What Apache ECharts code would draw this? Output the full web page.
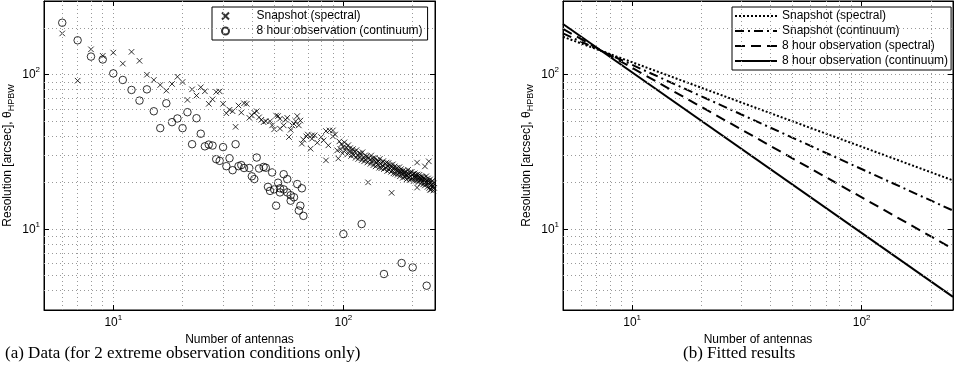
<!DOCTYPE html>
<html>
<head>
<meta charset="utf-8">
<script src="https://cdn.jsdelivr.net/npm/echarts@6/dist/echarts.min.js"></script>
<style>
html, body { margin: 0; padding: 0; background: #fff; }
#chart { width: 956px; height: 372px; }
</style>
</head>
<body>
<div id="chart"></div>
<script>
// [number of antennas, resolution in arcsec]
const snapshotSpectral = [
  [6, 185], [7, 91.5], [8, 146], [9, 132.5], [10, 139], [11, 118], [12, 140.6], [13, 123], [14, 100],
  [15, 92.5], [16, 85.8], [17, 78.9], [18, 87.1], [19, 97], [20, 89.7], [21, 68.7], [22, 80.4],
  [23, 73.3], [24, 82.9], [25, 78.1], [26, 64.8], [27, 69.3], [28, 77.4], [29, 78], [30, 64.8],
  [31, 56.3], [32, 59.3], [33, 58], [34, 46], [35, 63.2], [36, 56.9], [37, 65.3], [38, 64.8],
  [39, 52.6], [40, 54.5], [41, 56.7], [42, 58], [43, 53], [44, 51.1], [45, 49.3], [46, 50],
  [48, 50], [49, 47], [50, 44.3], [51, 54.4], [52, 54], [53, 51.9], [53, 44.8], [55, 47], [56, 51.1],
  [57, 52.6], [58, 39.5], [59, 44], [60, 47], [61, 48], [62, 50], [63, 54], [64, 47], [65, 50.5],
  [66, 35.8], [67, 38], [69, 39.9], [70, 41], [72, 33.2], [73, 38.5], [73, 40.5], [75, 40.5],
  [77, 36.3], [80, 39.5], [82, 37.6], [84, 27.9], [84, 43.2], [86, 34.9], [87, 43.6], [90, 39.9],
  [90, 43.6], [92, 41], [94, 32.4], [95, 28.7],
  [96, 37], [97, 33], [98, 35.5], [99, 31], [100, 34], [101, 36.5], [102, 32.5], [103, 33.8],
  [104, 30.5], [105, 35], [106, 32], [107, 33.5], [108, 29.8], [109, 31.5], [110, 33], [111, 30.2],
  [112, 31.8], [113, 29], [114, 32.5], [115, 30], [116, 28.5], [117, 31], [118, 29.5], [119, 30.8],
  [120, 28], [121, 31.5], [122, 29], [123, 27.5], [124, 30], [125, 28.3], [126, 29.6], [127, 27],
  [128, 20.1], [129, 29], [130, 28], [131, 26.5], [132, 30], [133, 27.5], [134, 28.8], [135, 26],
  [136, 27.8], [137, 29], [138, 25.5], [139, 27], [140, 28], [141, 26.2], [142, 27.4], [143, 25],
  [144, 28.5], [145, 26.5], [146, 24.8], [147, 27], [148, 25.8], [149, 27.6], [150, 24.5],
  [152, 26.5], [153, 25], [154, 27], [155, 23.8], [156, 25.6], [157, 26.8], [158, 24.2], [159, 25],
  [160, 26], [161, 23.5], [162, 17.2], [162, 25.2], [163, 24], [164, 26.3], [165, 23], [166, 24.8],
  [167, 25.5], [168, 22.8], [169, 24.5], [170, 23.8], [171, 25], [172, 22.5], [173, 24], [174, 23.2],
  [175, 25.2], [176, 22], [177, 23.6], [178, 24.5], [179, 22.8], [180, 23.5], [181, 21.5], [182, 24],
  [183, 22.6], [184, 23.2], [185, 21.8], [186, 23.8], [187, 22.4], [188, 21], [189, 23], [190, 22.2],
  [191, 24.2], [192, 21.5], [193, 22.8], [194, 20.8], [195, 23.2], [196, 22], [197, 21.2], [198, 23.5],
  [199, 22.5], [200, 21.3], [201, 22.8], [202, 20.5], [203, 22], [204, 23], [205, 21.5], [206, 22.4],
  [207, 20.6], [208, 21.8], [209, 18.6], [209, 27], [210, 22.6], [211, 21], [212, 20.2], [213, 21.7],
  [214, 22.5], [215, 20.8], [216, 21.4], [217, 19.8], [218, 22], [219, 21], [220, 20.4], [221, 21.8],
  [222, 19.5], [223, 20.8], [224, 21.5], [225, 20], [226, 19.2], [226, 25.5], [227, 21], [228, 20.3],
  [229, 22], [230, 19.6], [231, 20.6], [232, 18.8], [233, 21.3], [234, 19.8], [235, 20.5], [235, 27.5],
  [236, 18.5], [237, 20], [238, 21], [238, 18], [239, 19.2], [240, 18], [241, 20.2], [242, 19.5],
  [243, 18.8], [244, 20.6], [245, 19], [246, 17.8], [247, 19.8], [248, 18.5]
]
const hour8Continuum = [
  [6, 217], [7, 167], [8, 131], [9, 125.5], [10, 102], [11, 92.5], [12, 79.7], [13, 68], [14, 80.4],
  [15, 58], [16, 45.1], [17, 65.3], [18, 49.3], [19, 52.1], [20, 45.1], [21, 57.2], [22, 35.5],
  [23, 52.3], [24, 41.5], [25, 34.4], [26, 35.3], [27, 34.8], [28, 28.4], [29, 27.7], [30, 34],
  [31, 25.6], [32, 28.8], [33, 24.1], [34, 35.5], [35, 25.6], [36, 26], [37, 24.9], [39, 24.9],
  [40, 22], [41, 21.1], [42, 29.1], [43, 24.7], [45, 25.3], [46, 25], [47, 18.8], [48, 17.7],
  [49, 23.3], [50, 18.1], [51, 14.2], [52, 20], [53, 18.4], [53, 17.3], [55, 22.7], [55, 18.1],
  [57, 21.1], [57, 17.3], [59, 16.6], [59, 15.3], [61, 16.1], [63, 19.6], [64, 13.2], [65, 14.2],
  [66, 18.4], [67, 12.2], [100, 9.3], [120, 10.8], [150, 5.13], [179, 6.04], [200, 5.66], [230, 4.31]
]
// fitted power laws, values read at N = 5 and N = 250
const fitSnapSpectral = [[5, 176], [250, 20.7]]
const fitSnapContinuum = [[5, 185], [250, 13.2]]
const fit8hSpectral = [[5, 198], [250, 7.46]]
const fit8hContinuum = [[5, 213], [250, 3.65]]

const xRange = [5, 250]
const yRange = [3, 300]
const minorX = [6, 7, 8, 9, 20, 30, 40, 50, 60, 70, 80, 90, 200]
const minorY = [4, 5, 6, 7, 8, 9, 20, 30, 40, 50, 60, 70, 80, 90, 200]
const captions = ['(a) Data (for 2 extreme observation conditions only)', '(b) Fitted results']

const font = 'Liberation Sans'
const crossPath = 'path://M0,0L10,10M10,0L0,10'

function powLabel (v) {
  const e = Math.log10(v)
  if (Math.abs(e - Math.round(e)) > 1e-6) return ''
  return '{b|10}{s|' + Math.round(e) + '}'
}
const powRich = {
  b: { fontSize: 12, fontFamily: font, color: '#000' },
  s: { fontSize: 8, fontFamily: font, color: '#000', padding: [0, 0, 9, 0] }
}

function xAxes (gi) {
  return [
    {
      type: 'log', gridIndex: gi, min: xRange[0], max: xRange[1], logBase: 10,
      name: 'Number of antennas', nameLocation: 'middle', nameGap: 13,
      nameTextStyle: { fontFamily: font, fontSize: 12, color: '#000' },
      axisLine: { lineStyle: { color: '#000' } },
      axisTick: { inside: true, length: 5, lineStyle: { color: '#000' } },
      axisLabel: { formatter: powLabel, rich: powRich, margin: 4 },
      splitLine: { show: true, lineStyle: { color: '#999', type: [1, 3] } }
    },
    {
      type: 'log', gridIndex: gi, position: 'top', min: xRange[0], max: xRange[1], logBase: 10,
      axisLine: { lineStyle: { color: '#000' } },
      axisTick: { inside: true, length: 5, lineStyle: { color: '#000' } },
      axisLabel: { show: false },
      splitLine: { show: false }
    }
  ]
}

function yAxes (gi) {
  return [
    {
      type: 'log', gridIndex: gi, min: yRange[0], max: yRange[1], logBase: 10,
      name: 'Resolution [arcsec], θ{sub|HPBW}', nameLocation: 'middle', nameGap: 28, nameRotate: 90,
      nameTextStyle: {
        fontFamily: font, fontSize: 12, color: '#000',
        rich: { sub: { fontFamily: font, fontSize: 9, color: '#000', padding: [7, 0, 0, 0] } }
      },
      axisLine: { lineStyle: { color: '#000' } },
      axisTick: { inside: true, length: 5, lineStyle: { color: '#000' } },
      axisLabel: { formatter: powLabel, rich: powRich, margin: 4 },
      splitLine: { show: true, lineStyle: { color: '#999', type: [1, 3] } }
    },
    {
      type: 'log', gridIndex: gi, position: 'right', min: yRange[0], max: yRange[1], logBase: 10,
      axisLine: { lineStyle: { color: '#000' } },
      axisTick: { inside: true, length: 5, lineStyle: { color: '#000' } },
      axisLabel: { show: false },
      splitLine: { show: false }
    }
  ]
}

// dotted minor grid lines at 2..9 x 10^n
function minorGrid (gi) {
  return {
    type: 'line', xAxisIndex: gi * 2, yAxisIndex: gi * 2, data: [], silent: true, z: 1,
    markLine: {
      silent: true, symbol: 'none', animation: false,
      label: { show: false },
      lineStyle: { color: '#999', type: [1, 3], width: 1 },
      data: minorX.map(v => ({ xAxis: v })).concat(minorY.map(v => ({ yAxis: v })))
    }
  }
}

function fitLine (name, data, type) {
  return {
    name: name, type: 'line', xAxisIndex: 2, yAxisIndex: 2, data: data,
    symbol: 'none', z: 3,
    lineStyle: { color: '#000', width: 2, type: type },
    itemStyle: { color: '#000' }
  }
}

const myChart = echarts.init(document.getElementById('chart'))
const option = {
  animation: false,
  backgroundColor: '#fff',
  textStyle: { fontFamily: font },
  grid: [
    { left: 44, top: 1, width: 391, height: 309, show: true, borderColor: '#000', borderWidth: 1 },
    { left: 563, top: 1, width: 392, height: 309, show: true, borderColor: '#000', borderWidth: 1 }
  ],
  xAxis: xAxes(0).concat(xAxes(1)),
  yAxis: yAxes(0).concat(yAxes(1)),
  legend: [
    {
      data: ['Snapshot (spectral)', '8 hour observation (continuum)'],
      orient: 'vertical', left: 212, top: 7,
      backgroundColor: '#fff', borderColor: '#000', borderWidth: 1, borderRadius: 0,
      padding: [3, 5, 3, 9], itemWidth: 20, itemHeight: 7, itemGap: 3,
      textStyle: { fontFamily: font, fontSize: 12, color: '#000', lineHeight: 12, padding: [0, 0, 0, 16] }
    },
    {
      data: ['Snapshot  (spectral)', 'Snapshot (continuum)', '8 hour observation (spectral)', '8 hour observation  (continuum)'],
      formatter: name => name.replace('  ', ' '),
      orient: 'vertical', left: 732, top: 7,
      backgroundColor: '#fff', borderColor: '#000', borderWidth: 1, borderRadius: 0,
      padding: [3, 3, 3, 2], itemWidth: 42, itemHeight: 12, itemGap: 3,
      itemStyle: { color: 'rgba(0,0,0,0)', borderColor: 'rgba(0,0,0,0)', borderWidth: 0 },
      textStyle: { fontFamily: font, fontSize: 12, color: '#000', lineHeight: 12 }
    }
  ],
  graphic: [
    { type: 'text', left: 5, top: 345, style: { text: captions[0], font: '17px "Liberation Serif"', fill: '#000' } },
    { type: 'text', left: 683, top: 345, style: { text: captions[1], font: '17px "Liberation Serif"', fill: '#000' } }
  ],
  series: [
    minorGrid(0),
    minorGrid(1),
    {
      name: 'Snapshot (spectral)', type: 'scatter', xAxisIndex: 0, yAxisIndex: 0,
      data: snapshotSpectral, symbol: crossPath, symbolSize: 5.5, z: 3,
      itemStyle: { color: '#000', borderColor: '#000', borderWidth: 1 }
    },
    {
      name: '8 hour observation (continuum)', type: 'scatter', xAxisIndex: 0, yAxisIndex: 0,
      data: hour8Continuum, symbol: 'circle', symbolSize: 7.5, z: 3,
      itemStyle: { color: 'rgba(0,0,0,0)', borderColor: '#000', borderWidth: 1 }
    },
    // names padded with a space so each legend only picks up its own panel
    fitLine('Snapshot  (spectral)', fitSnapSpectral, [2, 2]),
    fitLine('Snapshot (continuum)', fitSnapContinuum, [9, 4, 2, 4]),
    fitLine('8 hour observation (spectral)', fit8hSpectral, [10, 6]),
    fitLine('8 hour observation  (continuum)', fit8hContinuum, 'solid')
  ]
}
myChart.setOption(option)
</script>
</body>
</html>
